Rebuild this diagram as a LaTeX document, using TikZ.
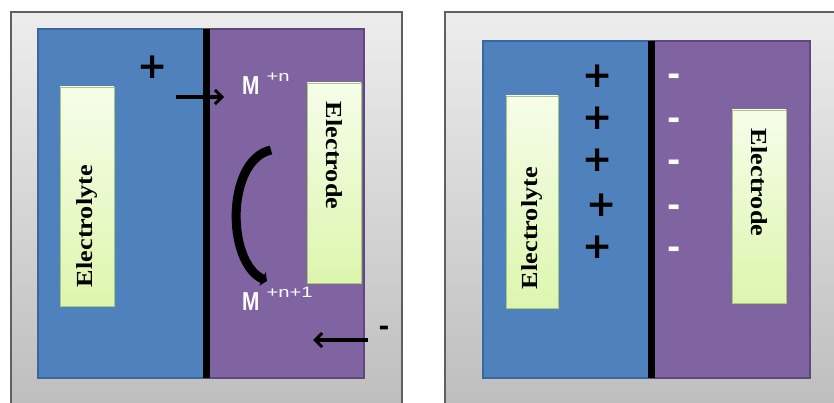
\documentclass[tikz,border=0pt]{standalone}
\usepackage{fontspec}
\setmainfont{Liberation Serif}
\newfontfamily\labelsans{Liberation Sans}
\newfontfamily\chargefont{DejaVu Sans}
\usetikzlibrary{arrows.meta}
\definecolor{elyteblue}{HTML}{4F81BD}
\definecolor{elyteedge}{HTML}{3A689E}
\definecolor{elecpurple}{HTML}{8064A2}
\definecolor{elecedge}{HTML}{5E4A7A}
\definecolor{boxlight}{HTML}{F6FDEA}
\definecolor{boxgreen}{HTML}{DDF6AE}
\definecolor{boxedge}{HTML}{A9C97A}
\definecolor{frametop}{HTML}{EDEDED}
\definecolor{framebot}{HTML}{BDBDBD}
\definecolor{frameedge}{HTML}{5F5F5F}
\newcommand{\ionlabel}[1]{{\labelsans\bfseries\fontsize{26}{26}\selectfont\scalebox{0.8}[1]{M}}%
  \hspace{7pt}\raisebox{13pt}{\labelsans\fontsize{15}{15}\selectfont\scalebox{1.35}[1]{#1}}}
\newcommand{\boxtext}[1]{\scalebox{1.14}[1]{#1}}
\begin{document}
\begin{tikzpicture}[x=1pt,y=-1pt,
  panel/.style={draw=frameedge,line width=1.6pt,top color=frametop,bottom color=framebot},
  elyte/.style={draw=elyteedge,line width=1.5pt,fill=elyteblue},
  elec/.style={draw=elecedge,line width=1.5pt,fill=elecpurple},
  divider/.style={line width=6.5pt,black},
  labelbox/.style={draw=boxedge,line width=0.8pt,top color=boxlight,bottom color=boxgreen,
    inner xsep=19pt,inner ysep=0pt,align=left,
    font=\fontsize{23}{23}\selectfont\bfseries},
  charge/.style={inner sep=0pt,text height=0.6em,text depth=0pt,
    font=\chargefont\bfseries\fontsize{36}{36}\selectfont},
  minus/.style={charge,text=white,font=\chargefont\bfseries\fontsize{32}{32}\selectfont},
  ion/.style={inner sep=0pt,anchor=base west,text=white},
  flow/.style={line width=3.2pt,-{Straight Barb[length=7pt,width=14pt,line width=3pt]}},
  bigarc/.style={line width=9pt,-{Triangle[length=5pt,width=15pt]}}]
\useasboundingbox (0,0) rectangle (834,403);

% ---- left panel: charge transfer across the interface ----
\path[panel] (11,12) rectangle (402,414);
\path[elyte] (38,29) rectangle (205,378);
\path[elec] (205,29) rectangle (364,378);
\draw[divider] (206.5,29) -- (206.5,378);

\node[labelbox,rotate=90,minimum height=54pt,text width=181pt] (lyteL) at (87,196.5) {\boxtext{Electrolyte}};
\node[labelbox,rotate=-90,minimum height=54pt,text width=162pt] (trodeL) at (334,183) {\boxtext{Electrode}};

\node[charge] (plusL) at (153,76) {+};
\coordinate (inA) at (176,97);
\coordinate (inB) at (224,97);
\draw[flow] (inA) -- (inB);

\node[ion] (mn) at (242,95) {\ionlabel{+n}};
\node[ion] (mn1) at (242,310) {\ionlabel{+n+1}};

\coordinate (arcTop) at (271,150);
\coordinate (arcBot) at (267,281);
\draw[bigarc] (arcTop) .. controls (226,160) and (226,262) .. (arcBot);

\node[charge,text=black,font=\chargefont\bfseries\fontsize{26}{26}\selectfont] (minusL) at (384,332) {-};
\coordinate (eA) at (368,340);
\coordinate (eB) at (313,340);
\draw[flow] (eA) -- (eB);

% ---- right panel: electric double layer ----
\path[panel] (445,12) rectangle (842,414);
\path[elyte] (483,41) rectangle (651,378);
\path[elec] (651,41) rectangle (810,378);
\draw[divider] (651.5,41) -- (651.5,378);

\node[labelbox,rotate=90,minimum height=52pt,text width=174pt] (lyteR) at (532,202) {\boxtext{Electrolyte}};
\node[labelbox,rotate=-90,minimum height=54pt,text width=155pt] (trodeR) at (759,206.5) {\boxtext{Electrode}};

\node[charge] (p1) at (598,85) {+};
\node[charge] (p2) at (598,127) {+};
\node[charge] (p3) at (598,169) {+};
\node[charge] (p4) at (602,213) {+};
\node[charge] (p5) at (598,255) {+};

\node[minus] (m1) at (674,83) {-};
\node[minus] (m2) at (674,127) {-};
\node[minus] (m3) at (674,169) {-};
\node[minus] (m4) at (674,213) {-};
\node[minus] (m5) at (674,255) {-};
\end{tikzpicture}
\end{document}
